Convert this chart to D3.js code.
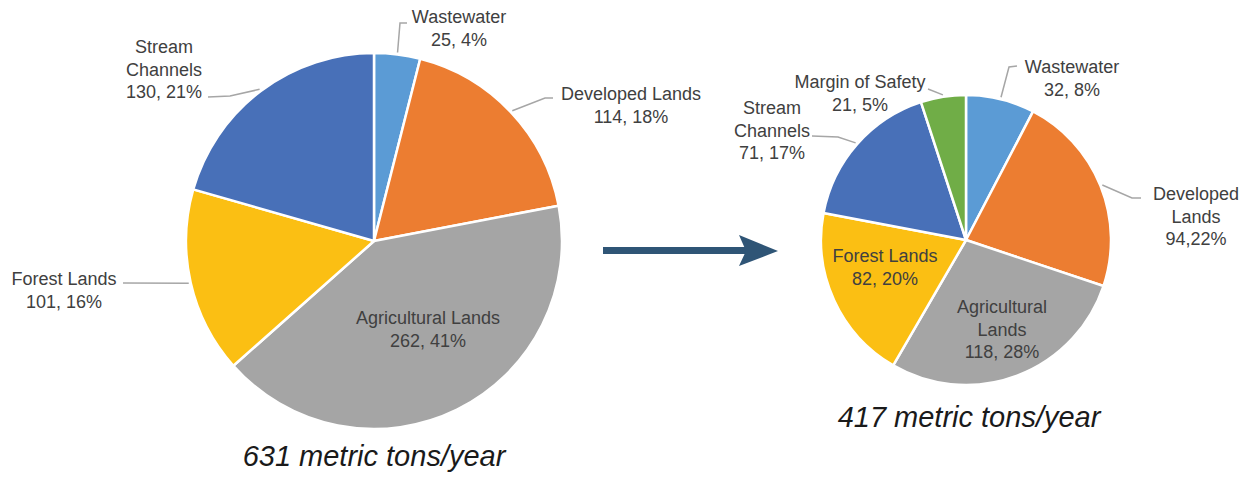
<!DOCTYPE html>
<html><head><meta charset="utf-8">
<script src="https://cdn.jsdelivr.net/npm/d3@7"></script>
<style>body{margin:0;background:#fff}svg{display:block}</style>
</head><body>
<script>
// ---- Data ----
const categoriesBefore = ["Wastewater", "Developed Lands", "Agricultural Lands", "Forest Lands", "Stream Channels"];
const valuesBefore     = [25, 114, 262, 101, 130];
const percentsBefore   = ["4%", "18%", "41%", "16%", "21%"];
const totalBefore = "631 metric tons/year";

const categoriesAfter = ["Wastewater", "Developed Lands", "Agricultural Lands", "Forest Lands", "Stream Channels", "Margin of Safety"];
const valuesAfter     = [32, 94, 118, 82, 71, 21];
const percentsAfter   = ["8%", "22%", "28%", "20%", "17%", "5%"];
const totalAfter = "417 metric tons/year";

const colorMap = {
  "Wastewater": "#5b9bd5",
  "Developed Lands": "#ec7d31",
  "Agricultural Lands": "#a5a5a5",
  "Forest Lands": "#fbbf13",
  "Stream Channels": "#4870b8",
  "Margin of Safety": "#70ad47"
};

// ---- Layout (label placement) ----
const layoutBefore = {
  cx: 374, cy: 241, r: 188,
  title: {x: 374, y: 466},
  labels: {
    "Wastewater":        {x: 459, y: 23, lines: ["Wastewater", "{v}, {p}"], leader: [[400, 23], [407, 23]]},
    "Developed Lands":   {x: 631, y: 100, lines: ["Developed Lands", "{v}, {p}"], leader: [[545, 98], [553, 98]]},
    "Agricultural Lands":{x: 428, y: 324, lines: ["Agricultural Lands", "{v}, {p}"]},
    "Forest Lands":      {x: 64, y: 285, lines: ["Forest Lands", "{v}, {p}"], leader: [[123, 283]]},
    "Stream Channels":   {x: 164, y: 53, lines: ["Stream", "Channels", "{v}, {p}"], leader: [[230, 96], [208, 97]]}
  }
};
const layoutAfter = {
  cx: 966, cy: 240, r: 145,
  title: {x: 969, y: 427},
  labels: {
    "Wastewater":        {x: 1072, y: 73, lines: ["Wastewater", "{v}, {p}"], leader: [[1009, 67], [1017, 66]]},
    "Developed Lands":   {x: 1196, y: 200, lines: ["Developed", "Lands", "{v},{p}"], leader: [[1132, 198], [1141, 198]]},
    "Agricultural Lands":{x: 1002, y: 313, lines: ["Agricultural", "Lands", "{v}, {p}"]},
    "Forest Lands":      {x: 885, y: 262, lines: ["Forest Lands", "{v}, {p}"]},
    "Stream Channels":   {x: 772, y: 114, lines: ["Stream", "Channels", "{v}, {p}"], leader: [[838, 137], [812, 136]]},
    "Margin of Safety":  {x: 860, y: 88, lines: ["Margin of Safety", "{v}, {p}"], leader: [[928, 89]]}
  }
};

const W = 1250, H = 480;
const svg = d3.select("body").append("svg").attr("width", W).attr("height", H)
  .style("font-family", "'Liberation Sans', Arial, sans-serif");

function drawPie(categories, values, percents, total, L) {
  const data = categories.map((c, i) => ({cat: c, value: values[i], pct: percents[i]}));
  const pie = d3.pie().sort(null).value(d => d.value);
  const arcs = pie(data);
  const arc = d3.arc().innerRadius(0).outerRadius(L.r);
  const g = svg.append("g").attr("transform", `translate(${L.cx},${L.cy})`);
  g.selectAll("path.slice").data(arcs).join("path")
    .attr("class", "slice")
    .attr("d", arc)
    .attr("fill", d => colorMap[d.data.cat])
    .attr("stroke", "#fff").attr("stroke-width", 2.5).attr("stroke-linejoin", "round");

  // leader lines
  arcs.forEach(a => {
    const lab = L.labels[a.data.cat];
    if (!lab || !lab.leader) return;
    const mid = (a.startAngle + a.endAngle) / 2;
    const rr = L.r + 2;
    const start = [L.cx + rr * Math.sin(mid), L.cy - rr * Math.cos(mid)];
    const pts = [start].concat(lab.leader);
    svg.append("path")
      .attr("d", d3.line()(pts))
      .attr("fill", "none").attr("stroke", "#a6a6a6").attr("stroke-width", 1.5);
  });

  // labels
  arcs.forEach(a => {
    const lab = L.labels[a.data.cat];
    if (!lab) return;
    const t = svg.append("text").attr("text-anchor", "middle")
      .attr("font-size", 18).attr("fill", "#404040");
    lab.lines.forEach((ln, i) => {
      t.append("tspan").attr("x", lab.x).attr("y", lab.y + i * 22.5)
        .text(ln.replace("{v}", a.data.value).replace("{p}", a.data.pct));
    });
  });

  svg.append("text").attr("x", L.title.x).attr("y", L.title.y)
    .attr("text-anchor", "middle").attr("font-size", 29)
    .attr("font-style", "italic").attr("fill", "#1a1a1a").text(total);
}

drawPie(categoriesBefore, valuesBefore, percentsBefore, totalBefore, layoutBefore);
drawPie(categoriesAfter, valuesAfter, percentsAfter, totalAfter, layoutAfter);

// arrow
svg.append("rect").attr("x", 603).attr("y", 247).attr("width", 144).attr("height", 7).attr("fill", "#2f5576");
svg.append("path").attr("d", "M739,235 L778,251 L739,266 L746,251 Z").attr("fill", "#2f5576");
</script>
</body></html>
